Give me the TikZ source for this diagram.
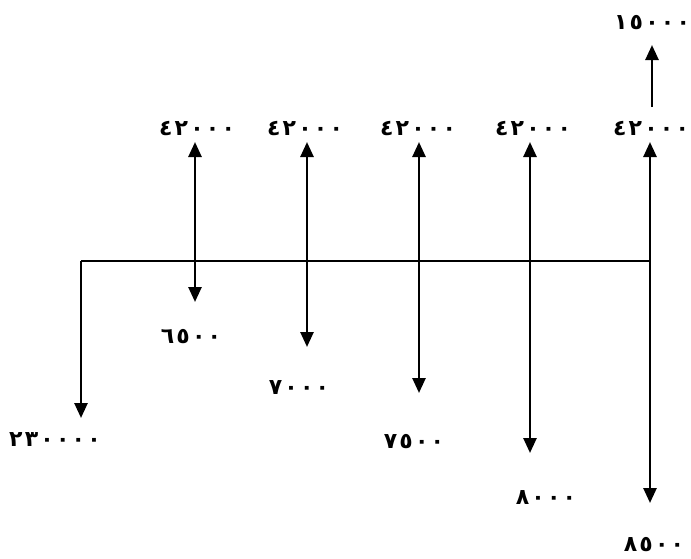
\documentclass[tikz,border=0pt]{standalone}
\usepackage{fontspec}
\newfontfamily\digitfont[LetterSpace=10]{DejaVu Sans Bold}
\usetikzlibrary{arrows.meta, positioning}

\begin{document}
\begin{tikzpicture}[
      x=1pt, y=-1pt,
      axis/.style={line width=2.6pt},
      flow/.style={-{Triangle[length=15pt, width=13pt]}, line width=2.6pt},
      amount/.style={font=\digitfont\fontsize{22}{24}\selectfont, inner sep=1pt}
    ]
      \useasboundingbox (0,0) rectangle (691,558);
      % --- Time points on the axis ---
      \coordinate (t0) at (81,261);
      \coordinate (t1) at (195,261);
      \coordinate (t2) at (307,261);
      \coordinate (t3) at (419,261);
      \coordinate (t4) at (530,261);
      \coordinate (t5) at (650,261);
      % --- Arrow tips ---
      \coordinate (in1) at (195,142);
      \coordinate (in2) at (307,142);
      \coordinate (in3) at (419,142);
      \coordinate (in4) at (530,142);
      \coordinate (in5) at (650,142);
      \coordinate (out0) at (81,418);
      \coordinate (out1) at (195,302);
      \coordinate (out2) at (307,347);
      \coordinate (out3) at (419,393);
      \coordinate (out4) at (530,453);
      \coordinate (out5) at (650,503);
      \coordinate (salv0) at (652,107);
      \coordinate (salv) at (652,45);
      % --- Amounts ---
      \node[amount] (rev1) at (197,128) {٤٢٠٠٠};
      \node[amount] (rev2) at (305,128) {٤٢٠٠٠};
      \node[amount] (rev3) at (418,128) {٤٢٠٠٠};
      \node[amount] (rev4) at (533,128) {٤٢٠٠٠};
      \node[amount] (rev5) at (651,128) {٤٢٠٠٠};
      \node[amount] (sale) at (652,23) {١٥٠٠٠};
      \node[amount] (cost0) at (55,440) {٢٣٠٠٠٠};
      \node[amount] (cost1) at (191,337) {٦٥٠٠};
      \node[amount] (cost2) at (299,388) {٧٠٠٠};
      \node[amount] (cost3) at (414,442) {٧٥٠٠};
      \node[amount] (cost4) at (546,498) {٨٠٠٠};
      \node[amount] (cost5) at (654,545) {٨٥٠٠};
      % --- Axis and cash flows ---
      \draw[axis] (t0) -- (t5);
      \draw[flow] (t0) -- (out0);
      \foreach \i in {1,...,5} {
        \draw[flow] (t\i) -- (in\i);
        \draw[flow] (t\i) -- (out\i);
      }
      \draw[flow] (salv0) -- (salv);
    \end{tikzpicture}
\end{document}
